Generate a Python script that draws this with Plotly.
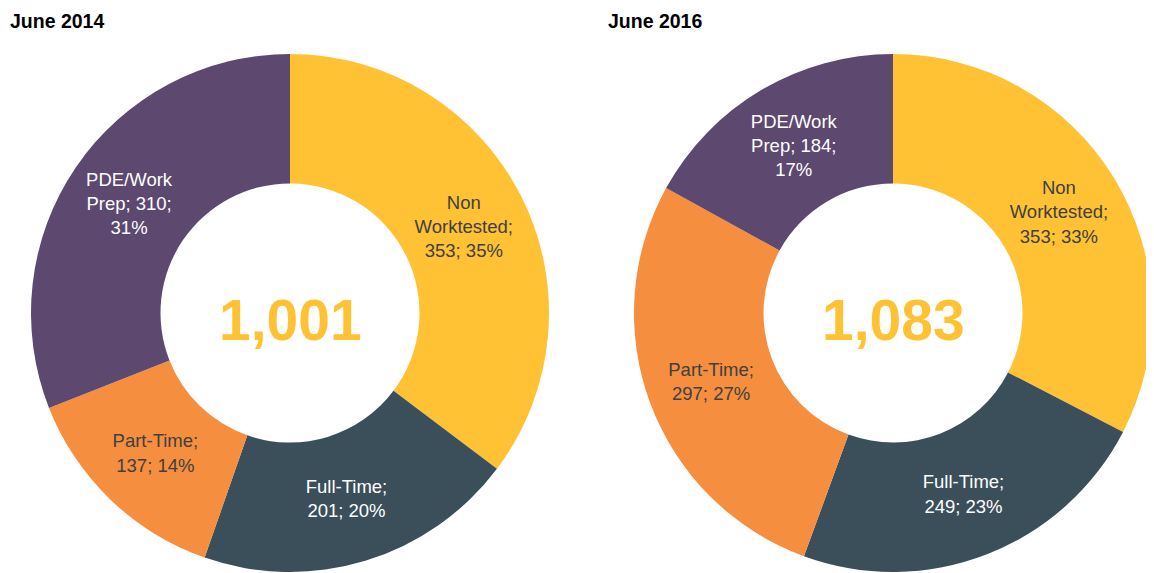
import plotly.graph_objects as go

categories = ["Non Worktested", "Full-Time", "Part-Time", "PDE/Work Prep"]
values_2014 = [353, 201, 137, 310]
values_2016 = [353, 249, 297, 184]
titles = ["June 2014", "June 2016"]
totals = ["1,001", "1,083"]

colors = ["#FFC234", "#3A4F5A", "#F58E3F", "#5D486F"]
text_colors = ["#404040", "#FFFFFF", "#404040", "#FFFFFF"]

tmpl = [
    "Non<br>Worktested;<br>%{value}; %{percent:.0%}",
    "Full-Time;<br>%{value}; %{percent:.0%}",
    "Part-Time;<br>%{value}; %{percent:.0%}",
    "PDE/Work<br>Prep; %{value};<br>%{percent:.0%}",
]

# page body has an 8px margin; figure coords = screen coords - 8
OFF = 8
W, H = 1146, 565
font = "Liberation Sans, Arial, sans-serif"

r = 259
cy = 313 - OFF
ydom = [(H - (cy + r)) / H, (H - (cy - r)) / H]

fig = go.Figure()
for vals, cx_s in [(values_2014, 290), (values_2016, 893)]:
    cx = cx_s - OFF
    fig.add_trace(go.Pie(
        labels=categories,
        values=vals,
        hole=0.5,
        sort=False,
        direction="clockwise",
        rotation=0,
        marker=dict(colors=colors, line=dict(width=0)),
        texttemplate=tmpl,
        textposition="inside",
        insidetextorientation="horizontal",
        textfont=dict(family=font, size=18.5, color=text_colors),
        domain=dict(x=[(cx - r) / W, (cx + r) / W], y=ydom),
        showlegend=False,
        hoverinfo="label+value+percent",
    ))

annotations = []
for t, x in zip(titles, [0, 606 - OFF]):
    annotations.append(dict(text="<b>%s</b>" % t, x=x / W, y=1, xref="paper", yref="paper",
                            xanchor="left", yanchor="top", showarrow=False,
                            font=dict(family=font, size=19.5, color="#000000")))
for t, cx_s in zip(totals, [290, 893]):
    annotations.append(dict(text="<b>%s</b>" % t, x=(cx_s - OFF) / W, y=1 - (320 - OFF) / H,
                            xref="paper", yref="paper",
                            xanchor="center", yanchor="middle", showarrow=False,
                            font=dict(family=font, size=57, color="#FFC234")))

fig.update_layout(
    width=W, height=H,
    margin=dict(l=0, r=0, t=0, b=0),
    paper_bgcolor="white", plot_bgcolor="white",
    annotations=annotations,
)
fig.write_html("out.html")
